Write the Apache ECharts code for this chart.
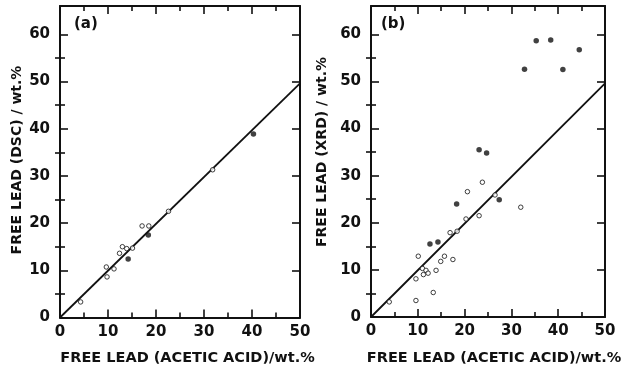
<!DOCTYPE html>
<html><head><meta charset="utf-8">
<script src="https://cdn.jsdelivr.net/npm/echarts@6/dist/echarts.min.js"></script>
<style>html,body{margin:0;padding:0;background:#fff}#c{width:625px;height:372px}</style>
</head><body><div id="c"></div>
<script>
// ---- data ----
const xTicks = [0, 10, 20, 30, 40, 50];
const yTicks = [0, 10, 20, 30, 40, 50, 60];
const yMinorTicks = [5, 15, 25, 35, 45, 55];
const lineX = [0, 50];
const lineY = [0, 49.6];

const aOpenX = [4.3, 9.8, 9.65, 11.25, 12.4, 13.0, 13.9, 15.1, 17.1, 18.5, 22.6, 31.8];
const aOpenY = [3.3, 8.6, 10.7, 10.3, 13.6, 15.0, 14.6, 14.7, 19.4, 19.4, 22.5, 31.3];
const aFilledX = [14.2, 18.4, 40.3];
const aFilledY = [12.4, 17.5, 38.9];

const bOpenX = [3.9, 9.6, 9.6, 10.1, 11.0, 11.2, 11.75, 12.2, 13.3, 13.9, 14.9, 15.7, 16.9, 17.5, 18.4, 20.3, 20.6, 23.1, 23.8, 26.5, 32.0];
const bOpenY = [3.2, 3.5, 8.1, 12.9, 10.3, 9.0, 9.9, 9.3, 5.2, 9.9, 11.8, 12.9, 17.9, 12.2, 18.2, 20.8, 26.6, 21.5, 28.6, 25.9, 23.3];
const bFilledX = [12.6, 14.3, 18.3, 23.1, 24.7, 27.4, 32.8, 35.3, 38.4, 41.0, 44.5];
const bFilledY = [15.5, 15.9, 24.0, 35.5, 34.8, 24.9, 52.6, 58.6, 58.8, 52.5, 56.7];

const xName = 'FREE LEAD (ACETIC ACID)/wt.%';
const yNameA = 'FREE LEAD (DSC) / wt.%';
const yNameB = 'FREE LEAD (XRD) / wt.%';
const panelLabels = ['(a)', '(b)'];

// ---- layout ----
const X_MAX = 50, Y_MAX = 66;
const FONT = 'DejaVu Sans';
const INK = '#111';
const zip = (xs, ys) => xs.map((x, i) => [x, ys[i]]);

const grids = [
  {left: 60, top: 6, width: 240, height: 311.5},
  {left: 371, top: 6, width: 234, height: 311}
];

const xAxes = [], yAxes = [], series = [];
grids.forEach((g, gi) => {
  const lineStyle = {color: INK, width: 2};
  ['bottom', 'top'].forEach(pos => {
    xAxes.push({
      gridIndex: gi, type: 'value', position: pos, min: 0, max: X_MAX, interval: 10,
      axisLine: {show: true, onZero: false, lineStyle},
      axisTick: {show: true, inside: true, length: 8, lineStyle: {color: INK, width: 1.6}},
      minorTick: {show: true, splitNumber: 2, length: 5, lineStyle: {color: INK, width: 1.6}},
      axisLabel: {show: pos === 'bottom', margin: 7, fontFamily: FONT, fontSize: 15, fontWeight: 'bold', color: INK,
        formatter: v => xTicks.includes(v) ? String(v) : ''},
      splitLine: {show: false}
    });
  });
  ['left', 'right'].forEach(pos => {
    yAxes.push({
      gridIndex: gi, type: 'value', position: pos, min: 0, max: Y_MAX,
      axisLine: {show: true, onZero: false, lineStyle},
      axisTick: {show: true, inside: true, length: 8, customValues: yTicks, lineStyle: {color: INK, width: 1.6}},
      axisLabel: {show: pos === 'left', margin: 10, fontFamily: FONT, fontSize: 15, fontWeight: 'bold', color: INK,
        customValues: yTicks},
      splitLine: {show: false}
    });
    yAxes.push({
      gridIndex: gi, type: 'value', position: pos, min: 0, max: Y_MAX,
      axisLine: {show: false},
      axisTick: {show: true, inside: true, length: 5, customValues: yMinorTicks, lineStyle: {color: INK, width: 1.6}},
      axisLabel: {show: false},
      splitLine: {show: false}
    });
  });
  const xi = gi * 2, yi = gi * 4;
  series.push({
    type: 'line', xAxisIndex: xi, yAxisIndex: yi, data: zip(lineX, lineY),
    showSymbol: false, symbol: 'none', lineStyle: {color: INK, width: 1.8}, z: 2, silent: true
  });
  const open = gi === 0 ? zip(aOpenX, aOpenY) : zip(bOpenX, bOpenY);
  const filled = gi === 0 ? zip(aFilledX, aFilledY) : zip(bFilledX, bFilledY);
  series.push({
    type: 'scatter', xAxisIndex: xi, yAxisIndex: yi, data: open, symbol: 'circle', symbolSize: 4.5,
    itemStyle: {color: '#fff', borderColor: INK, borderWidth: 1}, z: 3
  });
  series.push({
    type: 'scatter', xAxisIndex: xi, yAxisIndex: yi, data: filled, symbol: 'circle', symbolSize: 5.5,
    itemStyle: {color: INK}, z: 4
  });
});

const nameFont = 'bold 14.5px "DejaVu Sans"';
const yNameFont = 'bold 14px "DejaVu Sans"';
const graphic = [
  {type: 'text', x: 187.5, y: 358, style: {text: xName, font: nameFont, fill: INK, textAlign: 'center', textVerticalAlign: 'middle'}},
  {type: 'text', x: 494, y: 358, style: {text: xName, font: nameFont, fill: INK, textAlign: 'center', textVerticalAlign: 'middle'}},
  {type: 'text', x: 17, y: 160, rotation: Math.PI / 2, style: {text: yNameA, font: yNameFont, fill: INK, textAlign: 'center', textVerticalAlign: 'middle'}},
  {type: 'text', x: 322, y: 152, rotation: Math.PI / 2, style: {text: yNameB, font: yNameFont, fill: INK, textAlign: 'center', textVerticalAlign: 'middle'}},
  {type: 'text', x: 74, y: 24, style: {text: panelLabels[0], font: 'bold 15px "DejaVu Sans"', fill: INK, textAlign: 'left', textVerticalAlign: 'middle'}},
  {type: 'text', x: 381, y: 24, style: {text: panelLabels[1], font: 'bold 15px "DejaVu Sans"', fill: INK, textAlign: 'left', textVerticalAlign: 'middle'}}
];

const chart = echarts.init(document.getElementById('c'), null, {renderer: 'canvas'});
chart.setOption({
  animation: false,
  backgroundColor: '#fff',
  grid: grids,
  xAxis: xAxes,
  yAxis: yAxes,
  series,
  graphic
});
</script></body></html>
